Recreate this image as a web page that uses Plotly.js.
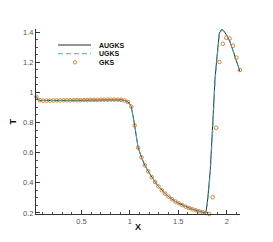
<!DOCTYPE html>
<html><head>
<script src="https://cdn.plot.ly/plotly-3.0.1.min.js"></script>
<style>body{margin:0;background:#fff}#c{width:273px;height:242px}</style>
</head><body><div id="c"></div>
<script>
// GKS markers
const gksX=[0.035,0.070,0.105,0.140,0.175,0.210,0.245,0.280,0.315,0.350,0.385,0.420,0.455,0.490,0.525,0.560,0.595,0.630,0.665,0.700,0.735,0.770,0.805,0.840,0.875,0.910,0.945,0.980,1.015,1.050,1.085,1.120,1.155,1.190,1.225,1.260,1.295,1.330,1.365,1.400,1.435,1.470,1.505,1.540,1.575,1.610,1.645,1.680,1.715,1.750,1.785,1.820,1.855,1.890,1.925,1.960,1.995,2.030,2.065,2.100,2.135];
const gksT=[0.970,0.948,0.945,0.945,0.945,0.946,0.946,0.946,0.947,0.947,0.947,0.948,0.948,0.948,0.949,0.949,0.950,0.950,0.950,0.951,0.951,0.951,0.952,0.952,0.951,0.950,0.946,0.936,0.905,0.780,0.633,0.569,0.516,0.476,0.438,0.405,0.376,0.350,0.328,0.308,0.291,0.276,0.264,0.252,0.242,0.233,0.225,0.218,0.211,0.205,0.199,0.193,0.304,0.765,1.201,1.322,1.362,1.356,1.309,1.230,1.148];
// AUGKS solid line
const augksX=[0.030,0.045,0.060,0.080,0.140,0.245,0.385,0.525,0.665,0.805,0.875,0.910,0.945,0.980,1.000,1.015,1.050,1.085,1.120,1.155,1.190,1.225,1.260,1.295,1.330,1.365,1.400,1.435,1.470,1.505,1.540,1.575,1.610,1.645,1.680,1.715,1.750,1.785,1.805,1.830,1.857,1.878,1.896,1.909,1.923,1.947,1.971,1.999,2.026,2.061,2.095,2.135];
const augksT=[0.975,0.960,0.950,0.946,0.945,0.946,0.947,0.949,0.950,0.952,0.951,0.950,0.946,0.936,0.922,0.905,0.780,0.633,0.569,0.516,0.476,0.438,0.405,0.376,0.350,0.328,0.308,0.291,0.276,0.264,0.252,0.242,0.233,0.225,0.218,0.211,0.205,0.199,0.300,0.485,0.810,1.082,1.214,1.325,1.391,1.418,1.407,1.380,1.347,1.285,1.219,1.140];
// UGKS dashed line
const ugksX=[0.030,0.045,0.060,0.080,0.140,0.245,0.385,0.525,0.665,0.805,0.875,0.910,0.945,0.980,1.000,1.015,1.050,1.085,1.120,1.155,1.190,1.225,1.260,1.295,1.330,1.365,1.400,1.435,1.470,1.505,1.540,1.575,1.610,1.645,1.680,1.715,1.750,1.788,1.808,1.833,1.860,1.881,1.899,1.912,1.926,1.950,1.974,2.001,2.028,2.062,2.096,2.135];
const ugksT=[0.975,0.960,0.950,0.946,0.945,0.946,0.947,0.949,0.950,0.952,0.951,0.950,0.946,0.936,0.922,0.905,0.780,0.633,0.569,0.516,0.476,0.438,0.405,0.376,0.350,0.328,0.308,0.291,0.276,0.264,0.252,0.242,0.233,0.225,0.218,0.211,0.205,0.199,0.300,0.485,0.810,1.082,1.214,1.322,1.388,1.414,1.404,1.378,1.345,1.284,1.219,1.142];

const xTickVals=[0.5,1,1.5,2];
const xTickText=['0.5','1','1.5','2'];
const yTickVals=[0.2,0.4,0.6,0.8,1,1.2,1.4];
const yTickText=['0.2','0.4','0.6','0.8','1','1.2','1.4'];
const seriesNames=['AUGKS','UGKS','GKS'];

const cBlack='#2b2b2b', cTeal='#3ab3b3', cOrange='#c97a2c';
const FONT='"Liberation Sans", Arial, Helvetica, sans-serif';

const traces=[
  {x:augksX,y:augksT,mode:'lines',line:{color:cBlack,width:1},name:seriesNames[0],cliponaxis:false},
  {x:ugksX,y:ugksT,mode:'lines',line:{color:cTeal,width:1,dash:'5px,3px'},name:seriesNames[1],cliponaxis:false},
  {x:gksX,y:gksT,mode:'markers',marker:{symbol:'circle-open',size:3.6,color:cOrange,line:{width:0.9,color:cOrange}},name:seriesNames[2],cliponaxis:false}
];

// plot area px: x 36..240, y 29..214
const PX=(p)=>(p-36)/204, PY=(p)=>(214-p)/185;
const shapes=[
  {type:'line',xref:'paper',yref:'paper',x0:PX(58),x1:PX(91),y0:PY(45),y1:PY(45),line:{color:cBlack,width:1}},
  {type:'line',xref:'paper',yref:'paper',x0:PX(58),x1:PX(91),y0:PY(53.7),y1:PY(53.7),line:{color:cTeal,width:1,dash:'5px,3px'}},
  {type:'circle',xref:'paper',yref:'paper',x0:PX(73.3),x1:PX(76.7),y0:PY(64),y1:PY(60.6),line:{color:cOrange,width:0.9}}
];
const legY=[45,53.8,62.3];
const annotations=seriesNames.map((n,i)=>({text:'<b>'+n+'</b>',xref:'paper',yref:'paper',x:PX(96.5),y:PY(legY[i]),xanchor:'left',yanchor:'middle',showarrow:false,font:{family:FONT,size:7,color:'#111'}}));
annotations.push({text:'<b>X</b>',xref:'paper',yref:'paper',x:PX(138),y:PY(227.5),xanchor:'center',yanchor:'middle',showarrow:false,font:{family:FONT,size:9,color:'#111'}});
annotations.push({text:'<b>T</b>',xref:'paper',yref:'paper',x:PX(12.5),y:PY(122),xanchor:'center',yanchor:'middle',textangle:-90,showarrow:false,font:{family:FONT,size:9,color:'#111'}});

const layout={
  width:273,height:242,
  margin:{l:36,r:33,t:29,b:28,pad:0},
  paper_bgcolor:'#fff',plot_bgcolor:'#fff',
  showlegend:false,
  font:{family:FONT,size:7.5,color:'#555'},
  xaxis:{range:[0.031,2.137],showgrid:false,zeroline:false,showline:true,linecolor:'#333',linewidth:1,
    ticks:'inside',ticklen:4,tickwidth:1,tickcolor:'#333',tickvals:xTickVals,ticktext:xTickText,
    minor:{ticks:'inside',dtick:0.1,tick0:0,ticklen:2,tickwidth:1,tickcolor:'#555',showgrid:false},
    tickfont:{family:FONT,size:7.5,color:'#555'}},
  yaxis:{range:[0.193,1.42],showgrid:false,zeroline:false,showline:true,linecolor:'#333',linewidth:1,
    ticks:'inside',ticklen:4,tickwidth:1,tickcolor:'#333',tickvals:yTickVals,ticktext:yTickText,
    minor:{ticks:'inside',dtick:0.05,tick0:0,ticklen:2,tickwidth:1,tickcolor:'#555',showgrid:false},
    tickfont:{family:FONT,size:7.5,color:'#555'}},
  shapes:shapes,annotations:annotations
};
Plotly.newPlot('c',traces,layout,{staticPlot:true,displayModeBar:false});
</script></body></html>
